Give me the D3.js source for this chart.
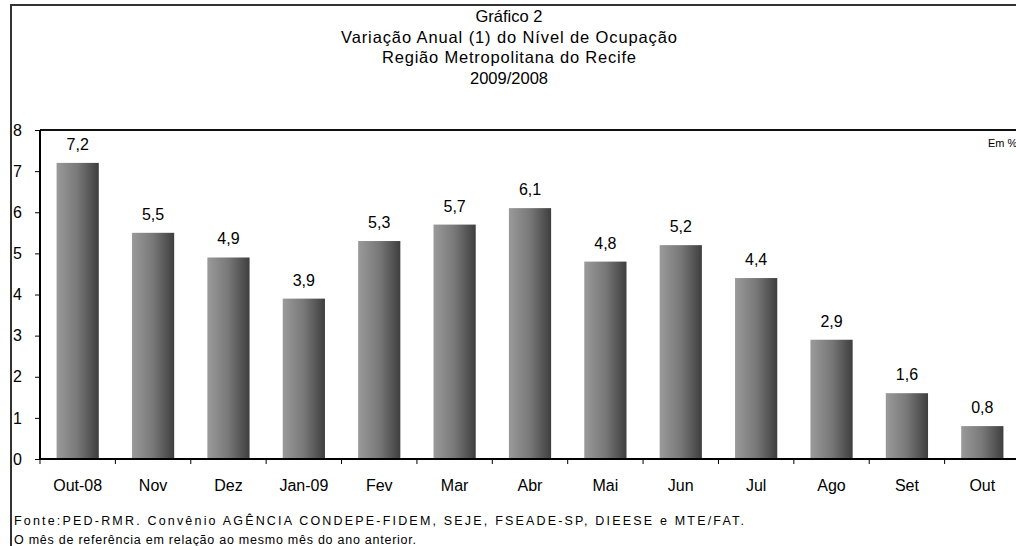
<!DOCTYPE html>
<html><head><meta charset="utf-8">
<script src="https://cdn.jsdelivr.net/npm/d3@7"></script>
<style>html,body{margin:0;padding:0;background:#fff;} svg{display:block;font-family:"Liberation Sans",Arial,sans-serif;}</style>
</head><body>
<svg id="c" width="1016" height="546"></svg>
<script>
const categories = ["Out-08","Nov","Dez","Jan-09","Fev","Mar","Abr","Mai","Jun","Jul","Ago","Set","Out"];
const values = [7.2,5.5,4.9,3.9,5.3,5.7,6.1,4.8,5.2,4.4,2.9,1.6,0.8];
const yTicks = [0,1,2,3,4,5,6,7,8];
const titleLines = ["Gráfico 2","Variação Anual (1) do Nível de Ocupação","Região Metropolitana do Recife","2009/2008"];
const unitLabel = "Em %";
const notes = ["Fonte:PED-RMR. Convênio AGÊNCIA CONDEPE-FIDEM, SEJE, FSEADE-SP, DIEESE e MTE/FAT.","O mês de referência em relação ao mesmo mês do ano anterior."];

const svg = d3.select("#c");
const defs = svg.append("defs");
const grad = defs.append("linearGradient").attr("id","g").attr("x1","0").attr("x2","1").attr("y1","0").attr("y2","0");
grad.append("stop").attr("offset","0").attr("stop-color","#9a9a9a");
grad.append("stop").attr("offset","0.5").attr("stop-color","#787878");
grad.append("stop").attr("offset","1").attr("stop-color","#3e3e3e");

// outer frame
svg.append("rect").attr("x",11).attr("y",5).attr("width",1030).attr("height",600)
  .attr("fill","none").attr("stroke","#333").attr("stroke-width",2);

// titles
const tt = svg.append("g").selectAll("text").data(titleLines).join("text")
  .attr("x",509).attr("y",(d,i)=>22+i*20.5).attr("text-anchor","middle")
  .attr("font-size",16.5).attr("fill","#000").text(d=>d);
tt.filter((d,i)=>i===1).attr("textLength",336).attr("lengthAdjust","spacing");
tt.filter((d,i)=>i===2).attr("textLength",254).attr("lengthAdjust","spacing");
svg.append("text").attr("x",988).attr("y",147).attr("font-size",11).text(unitLabel);

const pLeft=40, pRight=1020, pTop=130, pBottom=459;
const x = d3.scaleBand().domain(categories).range([pLeft,pRight]).paddingInner(0.44).paddingOuter(0.22);
const y = d3.scaleLinear().domain([0,8]).range([pBottom,pTop]);

// top border line of plot
svg.append("line").attr("x1",pLeft).attr("x2",1016).attr("y1",y(8)).attr("y2",y(8)).attr("stroke","#111").attr("stroke-width",2);

svg.append("g").selectAll("rect").data(values).join("rect")
  .attr("x",(d,i)=>x(categories[i])).attr("width",x.bandwidth())
  .attr("y",d=>y(d)).attr("height",d=>y(0)-y(d)).attr("fill","url(#g)");

svg.append("g").selectAll("text").data(values).join("text")
  .attr("x",(d,i)=>x(categories[i])+x.bandwidth()/2).attr("y",d=>y(d)-13)
  .attr("text-anchor","middle").attr("font-size",16).text(d=>d.toFixed(1).replace(".",","));

// y axis
const ya = svg.append("g").attr("transform",`translate(${pLeft},0)`)
  .call(d3.axisLeft(y).tickValues(yTicks).tickSize(5).tickPadding(10).tickFormat(d=>d));
ya.select(".domain").attr("stroke","#000").attr("stroke-width",2).attr("d",`M0,${pTop}V${pBottom}`);
ya.selectAll(".tick line").attr("stroke","#000");
ya.selectAll("text").attr("font-size",16).attr("font-family","Liberation Sans, Arial, sans-serif").attr("fill","#000").attr("text-anchor","start").attr("x",-27);

// x axis
const xa = svg.append("g").attr("transform",`translate(0,${pBottom})`);
xa.append("line").attr("x1",pLeft).attr("x2",1016).attr("stroke","#000").attr("stroke-width",2);
xa.selectAll("line.t").data(categories.concat(["_end"])).join("line").attr("class","t")
  .attr("x1",(d,i)=>pLeft+i*x.step()).attr("x2",(d,i)=>pLeft+i*x.step()).attr("y1",0).attr("y2",5).attr("stroke","#000");
xa.selectAll("text").data(categories).join("text")
  .attr("x",d=>x(d)+x.bandwidth()/2).attr("y",32).attr("text-anchor","middle").attr("font-size",16).text(d=>d);

const noteLen = [730, 402];
svg.append("g").selectAll("text").data(notes).join("text")
  .attr("x",14).attr("y",(d,i)=>525+i*19).attr("font-size",12.5)
  .attr("textLength",(d,i)=>noteLen[i]).attr("lengthAdjust","spacing").text(d=>d);
</script>
</body></html>
